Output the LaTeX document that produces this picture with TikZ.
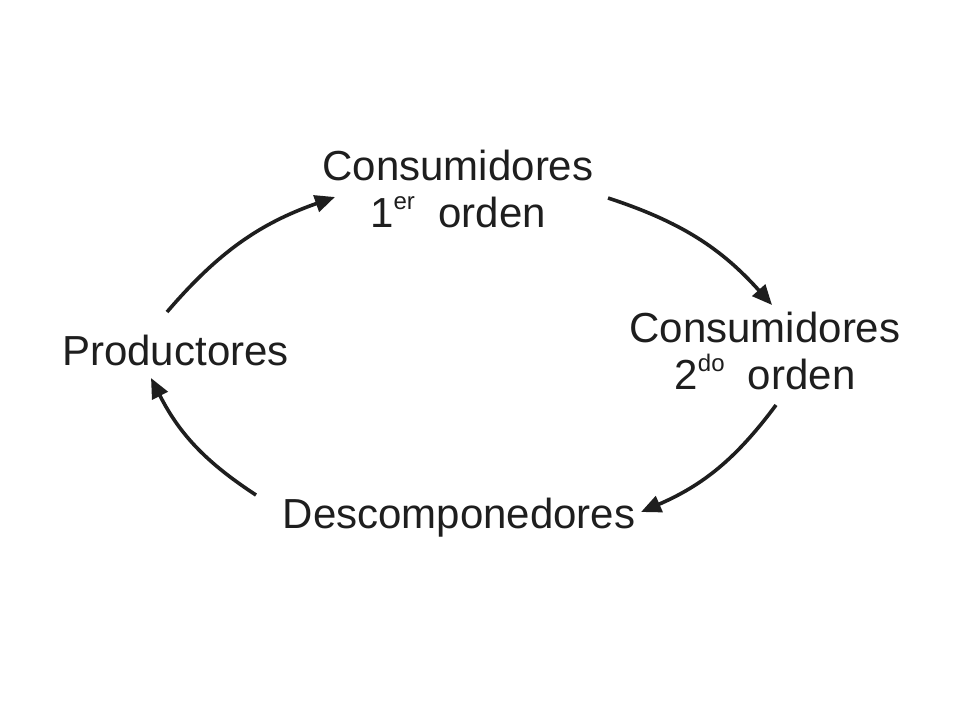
\documentclass[tikz,border=0pt]{standalone}
\usepackage{fontspec}
\setmainfont{Liberation Sans}
\usetikzlibrary{arrows.meta}
\definecolor{ink}{HTML}{1E1E1E}
\newcommand{\supx}[1]{\raisebox{18pt}{\fontsize{24}{24}\selectfont #1}}
\tikzset{
  lbl/.style={inner sep=0pt, anchor=base, align=center, text=ink,
    font=\fontsize{42}{47}\selectfont},
  cyc/.style={line width=3.6pt, draw=ink, -{Triangle[length=20pt,width=17pt]}}
}
\begin{document}
\begin{tikzpicture}[x=1pt,y=-1pt]
\useasboundingbox[fill=white] (0,0) rectangle (960,720);
\node[lbl] (c1) at (458,227) {Consumidores\\1\supx{er}\ \ orden};
\node[lbl] (c2) at (765,389) {Consumidores\\2\supx{do}\ \ orden};
\node[lbl] (prod) at (175.5,365) {Productores};
\node[lbl] (desc) at (459,528) {Descomponedores};
\draw[cyc] ([shift={(-8.5,-53)}]prod.base) to[bend left=15] ([shift={(-123,-30)}]c1.base);
\draw[cyc] ([shift={(150,-29)}]c1.base) to[bend left=15] ([shift={(7,-84)}]c2.base);
\draw[cyc] ([shift={(11,16)}]c2.base) to[bend left=15] ([shift={(182,-16)}]desc.base);
\draw[cyc] ([shift={(-203,-33)}]desc.base) to[bend left=15] ([shift={(-24.5,13)}]prod.base);
\end{tikzpicture}
\end{document}
